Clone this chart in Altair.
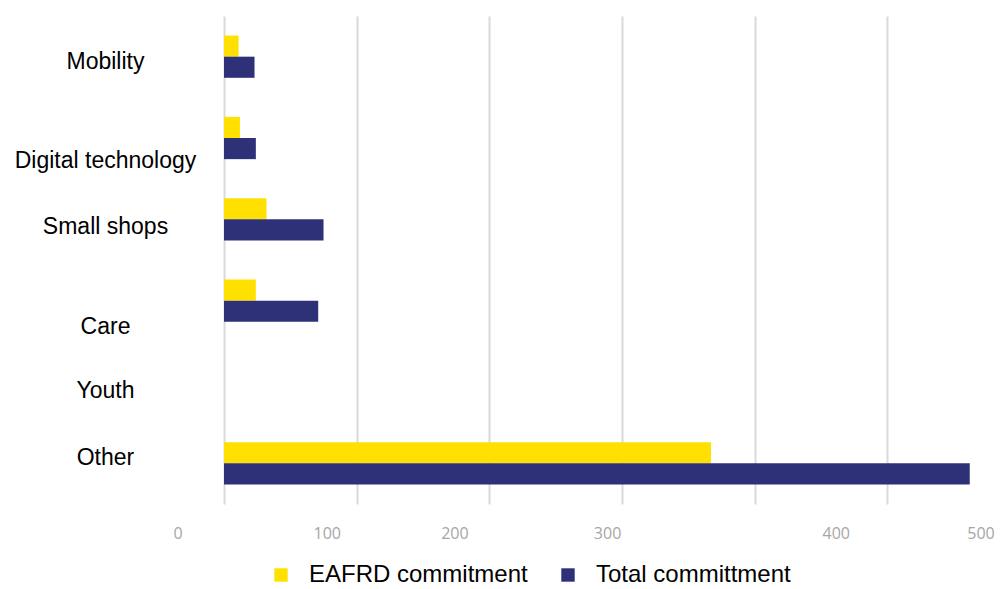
import altair as alt
import pandas as pd

categories = ["Mobility", "Digital technology", "Small shops", "Care", "Youth", "Other"]
series_names = ["EAFRD commitment", "Total committment"]
eafrd_values = [11, 12, 32, 24, 0, 367]
total_values = [23, 24, 75, 71, 0, 562]
x_tick_values = [0, 100, 200, 300, 400, 500]
colors = ["#FFE000", "#2E3178"]

rows = []
for c, e, t in zip(categories, eafrd_values, total_values):
    rows.append({"category": c, "series": series_names[0], "value": e})
    rows.append({"category": c, "series": series_names[1], "value": t})
df = pd.DataFrame(rows)

x_label_offset = {
    "condition": [
        {"test": "datum.value === 0", "value": -51},
        {"test": "datum.value === 100", "value": -30},
        {"test": "datum.value === 200", "value": -35},
        {"test": "datum.value === 300", "value": -15},
        {"test": "datum.value === 400", "value": 81},
        {"test": "datum.value === 500", "value": 93},
    ],
    "value": 0,
}
y_label_offset = {
    "condition": [
        {"test": "datum.value === 'Mobility'", "value": 5},
        {"test": "datum.value === 'Digital technology'", "value": 23},
        {"test": "datum.value === 'Small shops'", "value": 8},
        {"test": "datum.value === 'Care'", "value": 26},
        {"test": "datum.value === 'Youth'", "value": 9},
        {"test": "datum.value === 'Other'", "value": -5},
    ],
    "value": 0,
}

chart = alt.Chart(df).mark_bar(stroke=None).encode(
    x=alt.X(
        "value:Q",
        scale=alt.Scale(domain=[0, 575], nice=False, zero=True),
        axis=alt.Axis(
            values=x_tick_values,
            title=None,
            domain=False,
            ticks=False,
            grid=True,
            gridColor="#d9d9d9",
            gridWidth=2,
            labelFont="Open Sans",
            labelFontSize=16,
            labelColor="#a6a6a6",
            labelPadding=21,
            labelBaseline="top",
            labelOffset=x_label_offset,
        ),
    ),
    y=alt.Y(
        "category:N",
        sort=categories,
        scale=alt.Scale(paddingInner=0.48, paddingOuter=0.24),
        axis=alt.Axis(
            title=None,
            domain=False,
            ticks=False,
            grid=False,
            labelFont="Liberation Sans",
            labelFontSize=23,
            labelColor="#000000",
            labelAlign="center",
            labelBaseline="middle",
            labelPadding=119,
            labelLimit=300,
            labelOffset=y_label_offset,
        ),
    ),
    yOffset=alt.YOffset("series:N", sort=series_names),
    color=alt.Color(
        "series:N",
        sort=series_names,
        scale=alt.Scale(domain=series_names, range=colors),
        legend=alt.Legend(
            title=None,
            orient="none",
            legendX=45,
            legendY=547,
            direction="horizontal",
            symbolType="square",
            symbolSize=180,
            symbolStrokeWidth=0,
            labelFont="Liberation Sans",
            labelFontSize=24,
            labelColor="#000000",
            labelOffset=16,
            columnPadding=28,
            padding=0,
            labelLimit=400,
        ),
    ),
).properties(
    width=763,
    height=488,
    autosize=alt.AutoSizeParams(type="none"),
    padding={"left": 224, "top": 16, "right": 17, "bottom": 85},
).configure(background="white").configure_view(stroke=None)

chart.save("out.html", embed_options={"renderer": "svg", "actions": False})
